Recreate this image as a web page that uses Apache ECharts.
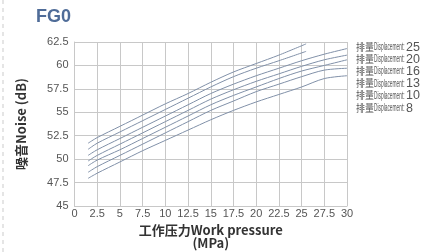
<!DOCTYPE html>
<html>
<head>
<meta charset="utf-8">
<script src="https://cdn.jsdelivr.net/npm/echarts@6/dist/echarts.min.js"></script>
<style>
  html, body { margin: 0; padding: 0; background: #fff; }
  #main { width: 430px; height: 252px; }
</style>
</head>
<body>
<div id="main"></div>
<script>
// displacement names shown at the right
var legendNames = ['25', '20', '16', '13', '10', '8'];

// [pressure MPa, noise dB]
var line25 = [[1.5, 51.7], [2.5, 52.3], [5, 53.5], [7.5, 54.7], [10, 55.9], [12.5, 57.0], [15, 58.2], [17.5, 59.3], [20, 60.2], [22.5, 61.1], [25.5, 62.3]];
var line20 = [[1.5, 51.05], [2.5, 51.7], [5, 52.9], [7.5, 54.1], [10, 55.3], [12.5, 56.5], [15, 57.7], [17.5, 58.8], [20, 59.7], [22.5, 60.5], [25.5, 61.5]];
var line16 = [[1.5, 50.4], [2.5, 51.0], [5, 52.2], [7.5, 53.4], [10, 54.6], [12.5, 55.8], [15, 57.0], [17.5, 58.0], [20, 58.9], [22.5, 59.7], [25, 60.5], [27.5, 61.2], [30, 61.8]];
var line13 = [[1.5, 49.8], [2.5, 50.4], [5, 51.6], [7.5, 52.8], [10, 54.0], [12.5, 55.2], [15, 56.4], [17.5, 57.4], [20, 58.3], [22.5, 59.1], [25, 59.9], [27.5, 60.6], [30, 61.1]];
var line10 = [[1.5, 49.3], [2.5, 49.9], [5, 51.0], [7.5, 52.2], [10, 53.4], [12.5, 54.6], [15, 55.8], [17.5, 56.8], [20, 57.7], [22.5, 58.6], [25, 59.4], [27.5, 60.0], [30, 60.6]];
var line8 = [[1.5, 48.6], [2.5, 49.2], [5, 50.4], [7.5, 51.6], [10, 52.8], [12.5, 54.0], [15, 55.2], [17.5, 56.2], [20, 57.2], [22.5, 58.0], [25, 58.8], [27.5, 59.5], [30, 59.7]];
var lineLow = [[1.5, 47.95], [2.5, 48.5], [5, 49.7], [7.5, 50.9], [10, 52.0], [12.5, 53.1], [15, 54.2], [17.5, 55.2], [20, 56.1], [22.5, 56.9], [25, 57.7], [27.5, 58.6], [30, 58.9]];

var chart = echarts.init(document.getElementById('main'));

function mkLine(name, data) {
    return {
        name: name,
        type: 'line',
        data: data,
        showSymbol: false,
        smooth: 0.3,
        lineStyle: { width: 1, color: '#8090a8' },
        emphasis: { disabled: true }
    };
}

// right-hand labels: "排量" + squeezed "Displacement:" + number
var labelColor = '#555';
var graphics = [{
    type: 'line',
    shape: { x1: 3, y1: 0, x2: 3, y2: 252 },
    style: { stroke: '#ccc', lineWidth: 1, lineDash: [4, 4] }
}];
legendNames.forEach(function (n, i) {
    var y = 46.7 + i * 12.2;
    graphics.push({
        type: 'text', x: 356, y: y, scaleX: 0.85,
        style: { text: '排量', fontSize: 10.5, fill: labelColor, fontFamily: 'Noto Sans CJK SC', verticalAlign: 'middle' }
    });
    graphics.push({
        type: 'text', x: 374, y: y + 0.5, scaleX: 0.46,
        style: { text: 'Displacement:', fontSize: 10.5, fill: labelColor, fontFamily: 'Liberation Sans, Arial', verticalAlign: 'middle' }
    });
    graphics.push({
        type: 'text', x: 406, y: y + 0.5,
        style: { text: n, fontSize: 12.5, fill: labelColor, fontFamily: 'Liberation Sans, Arial', verticalAlign: 'middle' }
    });
});

var option = {
    animation: false,
    title: {
        text: 'FG0',
        left: 31,
        top: 3,
        textStyle: { fontSize: 18, fontWeight: 'bold', color: '#4f6c98', fontFamily: 'Liberation Sans, Arial' }
    },
    grid: { left: 74.5, right: 83, top: 42, bottom: 46, outerBoundsMode: 'none', containLabel: false },
    xAxis: {
        type: 'value',
        min: 0,
        max: 30,
        interval: 2.5,
        name: '工作压力Work pressure\n(MPa)',
        nameLocation: 'middle',
        nameGap: 17,
        nameTextStyle: { fontSize: 13, fontWeight: 'bold', color: '#333', lineHeight: 13, fontFamily: 'Noto Sans CJK SC' },
        axisLine: { lineStyle: { color: '#c8c8c8' } },
        axisTick: { show: false },
        axisLabel: { fontSize: 11, color: '#555', margin: 2, fontFamily: 'Liberation Sans, Arial' },
        splitLine: { show: true, lineStyle: { color: '#c8c8c8', width: 1 } }
    },
    yAxis: {
        type: 'value',
        min: 45,
        max: 62.5,
        interval: 2.5,
        name: '噪音Noise (dB)',
        nameLocation: 'middle',
        nameGap: 47,
        nameTextStyle: { fontSize: 13, fontWeight: 'bold', color: '#333', fontFamily: 'Noto Sans CJK SC' },
        axisLine: { show: true, lineStyle: { color: '#c8c8c8' } },
        axisTick: { show: false },
        axisLabel: { fontSize: 11, color: '#555', margin: 6, fontFamily: 'Liberation Sans, Arial' },
        splitLine: { show: true, lineStyle: { color: '#c8c8c8', width: 1 } }
    },
    graphic: graphics,
    series: [
        mkLine('25', line25),
        mkLine('20', line20),
        mkLine('16', line16),
        mkLine('13', line13),
        mkLine('10', line10),
        mkLine('8', line8),
        mkLine('low', lineLow)
    ]
};

chart.setOption(option);
</script>
</body>
</html>
